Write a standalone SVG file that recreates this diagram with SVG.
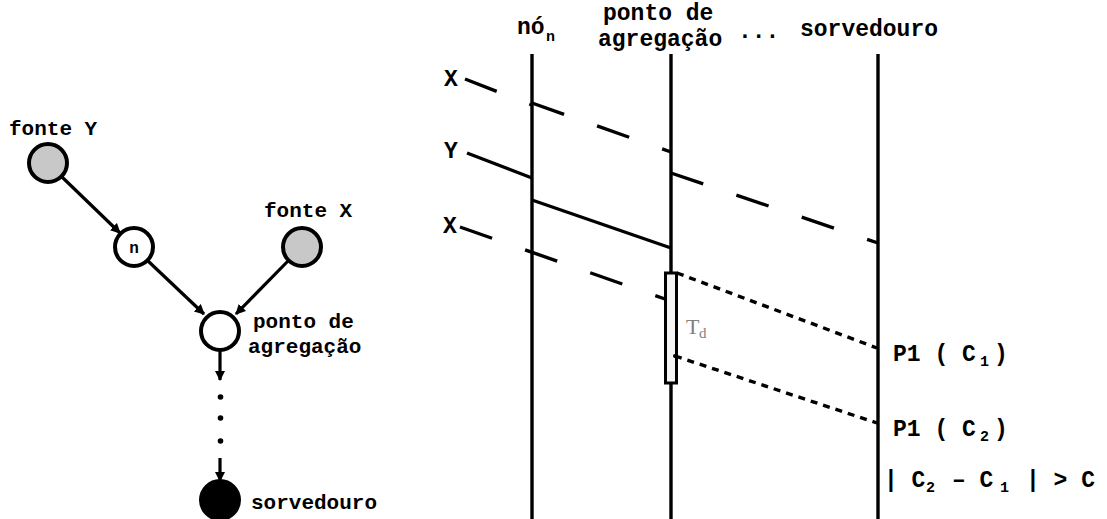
<svg xmlns="http://www.w3.org/2000/svg" width="1107" height="519" viewBox="0 0 1107 519">
<style>
text{font-family:"Liberation Mono","Courier New",monospace;font-weight:bold;fill:#000}
.l{font-size:21px}
.h{font-size:23px}
.s{font-size:15px}
.node{stroke:#000;stroke-width:4}
.edge{stroke:#000;stroke-width:3.2;fill:none}
.life{stroke:#000;stroke-width:3.4;fill:none}
.dash{stroke:#000;stroke-width:3.4;fill:none;stroke-dasharray:34 35}
.dot{stroke:#000;stroke-width:3.4;fill:none;stroke-dasharray:7 6}
.td{font-family:"Liberation Serif","Times New Roman",serif;font-weight:normal;fill:#808080}
</style>
<defs>
<marker id="ah" viewBox="0 0 10 10" refX="9" refY="5" markerWidth="3.2" markerHeight="3.2" orient="auto" markerUnits="strokeWidth">
<path d="M0,0 L10,5 L0,10 z" fill="#000"/>
</marker>
</defs>
<rect width="1107" height="519" fill="#fff"/>

<g id="connectors">
<line class="edge" x1="62" y1="177" x2="120" y2="233" marker-end="url(#ah)"/>
<line class="edge" x1="148" y1="261" x2="204" y2="314" marker-end="url(#ah)"/>
<line class="edge" x1="288" y1="261" x2="236" y2="314" marker-end="url(#ah)"/>
<line class="edge" x1="220" y1="351" x2="220" y2="380" marker-end="url(#ah)"/>
<line class="edge" x1="220" y1="458" x2="220" y2="481" marker-end="url(#ah)"/>
<circle cx="220.5" cy="397" r="2.8" fill="#000"/>
<circle cx="220.5" cy="418" r="2.8" fill="#000"/>
<circle cx="220.5" cy="441" r="2.8" fill="#000"/>
</g>

<g id="fonteY">
<circle class="node" cx="48" cy="163" r="19" fill="#c8c8c8"/>
<text class="l" x="9" y="135">fonte Y</text>
</g>
<g id="n">
<circle class="node" cx="134" cy="247" r="19" fill="#fff"/>
<text x="134" y="253" font-size="16" text-anchor="middle">n</text>
</g>
<g id="fonteX">
<circle class="node" cx="302" cy="247" r="19" fill="#c8c8c8"/>
<text class="l" x="264" y="217">fonte X</text>
</g>
<g id="ponto">
<circle class="node" cx="220" cy="331" r="19" fill="#fff"/>
<text class="l" x="253" y="328">ponto de</text>
<text class="l" x="248" y="353">agregação</text>
</g>
<g id="sorvedouro">
<circle class="node" cx="220" cy="500" r="19" fill="#000"/>
<text class="l" x="251" y="509">sorvedouro</text>
</g>

<g id="headers">
<text class="h" x="517" y="34">nó</text>
<text class="s" x="546" y="41">n</text>
<text class="h" x="603" y="20">ponto de</text>
<text class="h" x="598" y="46">agregação</text>
<text class="h" x="738" y="38">...</text>
<text class="h" x="800" y="36">sorvedouro</text>
</g>
<g id="lifelines">
<line class="life" x1="532" y1="54" x2="532" y2="519"/>
<line class="life" x1="671" y1="54" x2="671" y2="519"/>
<line class="life" x1="878" y1="54" x2="878" y2="519"/>
<rect x="665.5" y="273" width="11" height="110" fill="#f4f4f4" stroke="#000" stroke-width="3"/>
<text class="td" x="686" y="334" font-size="22">T</text>
<text class="td" x="699" y="338" font-size="15">d</text>
</g>
<g id="messages">
<text class="h" x="444" y="86">X</text>
<line class="dash" x1="465" y1="79" x2="532" y2="105"/>
<line class="dash" x1="532" y1="103" x2="671" y2="152"/>
<line class="dash" x1="671" y1="173" x2="878" y2="243"/>
<text class="h" x="444" y="158">Y</text>
<line class="edge" x1="467" y1="153" x2="532" y2="178"/>
<line class="edge" x1="532" y1="200" x2="671" y2="248"/>
<text class="h" x="443" y="233">X</text>
<line class="dash" x1="460" y1="227" x2="665" y2="299"/>
<line class="dot" x1="677" y1="273" x2="877" y2="348"/>
<line class="dot" x1="675" y1="356" x2="877" y2="423"/>
<circle cx="675" cy="356" r="2" fill="#000"/>
</g>
<g id="labels">
<text class="h" x="893" y="361">P1 ( C</text>
<text class="s" x="980" y="366">1</text>
<text class="h" x="994" y="361">)</text>
<text class="h" x="893" y="436">P1 ( C</text>
<text class="s" x="980" y="441">2</text>
<text class="h" x="994" y="436">)</text>
<text class="h" x="884" y="487">| C</text>
<text class="s" x="926" y="492">2</text>
<text class="h" x="952" y="487">– C</text>
<text class="s" x="1000" y="492">1</text>
<text class="h" x="1026" y="487">| &gt; C</text>
</g>
</svg>
